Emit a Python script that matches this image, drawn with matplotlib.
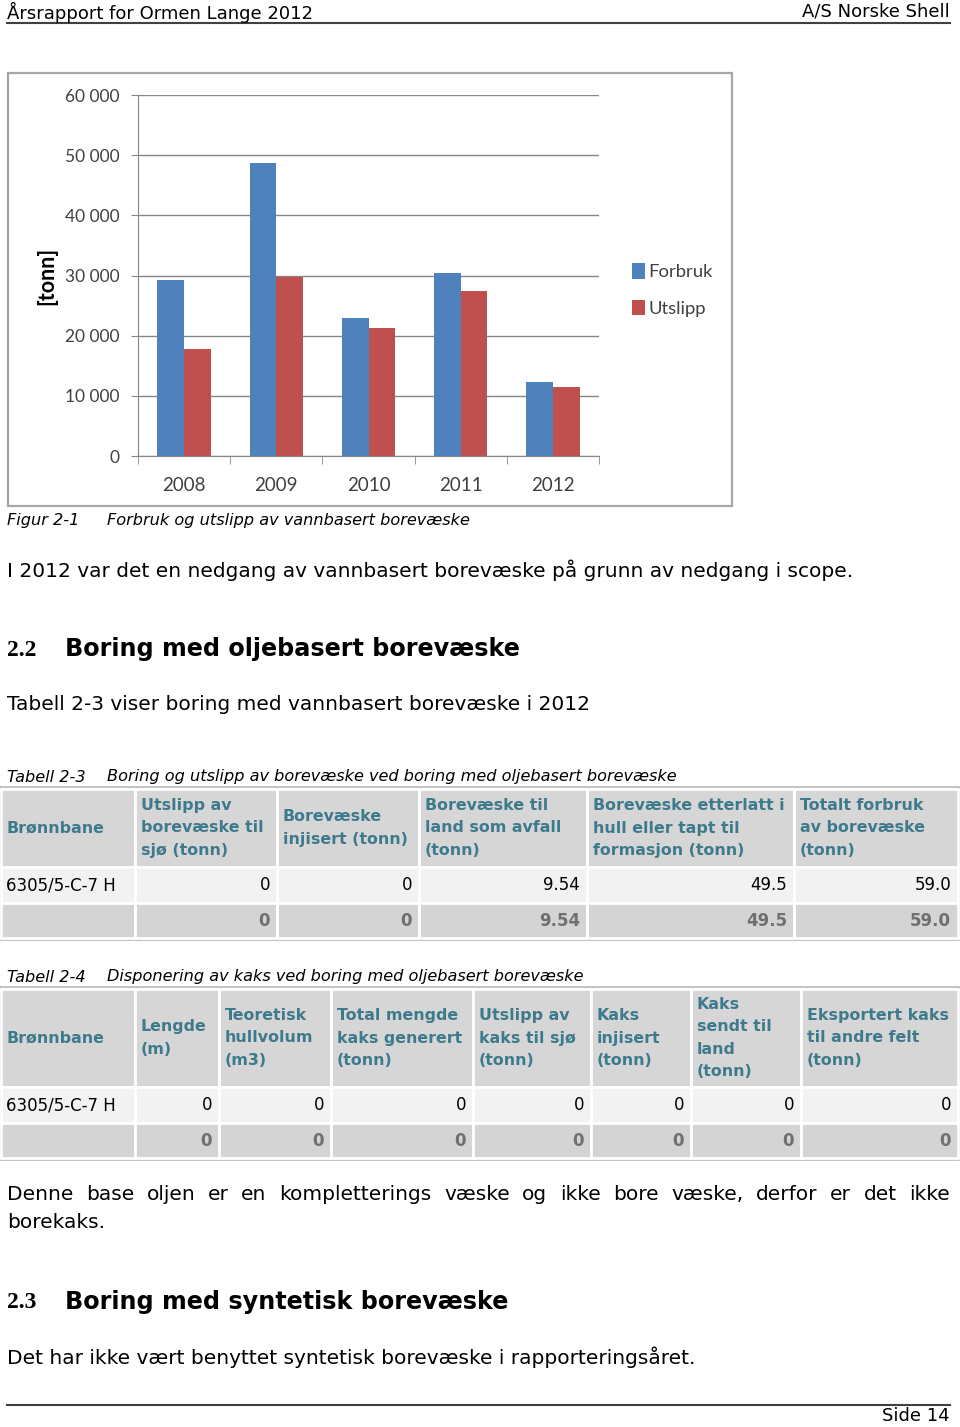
import matplotlib
matplotlib.use("Agg")
import matplotlib.pyplot as plt
from matplotlib.patches import Rectangle
import numpy as np

# chart data
years = ["2008", "2009", "2010", "2011", "2012"]
forbruk = [29250, 48750, 23000, 30350, 12250]
utslipp = [17850, 29750, 21250, 27500, 11450]

# table 2-3
t23_header = ["Brønnbane", "Utslipp av\nborevæske til\nsjø (tonn)", "Borevæske\ninjisert (tonn)",
              "Borevæske til\nland som avfall\n(tonn)", "Borevæske etterlatt i\nhull eller tapt til\nformasjon (tonn)",
              "Totalt forbruk\nav borevæske\n(tonn)"]
t23_row = ["6305/5-C-7 H", "0", "0", "9.54", "49.5", "59.0"]
t23_sum = ["", "0", "0", "9.54", "49.5", "59.0"]

# table 2-4
t24_header = ["Brønnbane", "Lengde\n(m)", "Teoretisk\nhullvolum\n(m3)", "Total mengde\nkaks generert\n(tonn)",
              "Utslipp av\nkaks til sjø\n(tonn)", "Kaks\ninjisert\n(tonn)", "Kaks\nsendt til\nland\n(tonn)",
              "Eksportert kaks\ntil andre felt\n(tonn)"]
t24_row = ["6305/5-C-7 H", "0", "0", "0", "0", "0", "0", "0"]
t24_sum = ["", "0", "0", "0", "0", "0", "0", "0"]

BLUE = "#4F81BD"
RED = "#C0504D"
TEAL = "#3d7a8c"
W, H = 960, 1427
BODY = 14.5

fig = plt.figure(figsize=(9.6, 14.27), dpi=100)
page = fig.add_axes([0, 0, 1, 1])
page.set_xlim(0, W)
page.set_ylim(H, 0)
page.axis("off")

# ---- header / footer
page.text(7, 12, "Årsrapport for Ormen Lange 2012", fontsize=13, va="center", ha="left")
page.text(950, 12, "A/S Norske Shell", fontsize=13, va="center", ha="right")
page.plot([7, 950], [23, 23], color="#404040", lw=1.5)
page.plot([7, 950], [1405, 1405], color="#404040", lw=1.5)
page.text(950, 1416, "Side 14", fontsize=13, va="center", ha="right")

# ---- chart frame
page.add_patch(Rectangle((8, 73), 724, 433, fill=False, ec="#a6a6a6", lw=1.6))

ax = fig.add_axes([138 / W, 1 - 456 / H, (599 - 138) / W, (456 - 95) / H])
x = np.arange(len(years))
bw = 0.29
ax.bar(x - bw / 2, forbruk, bw, color=BLUE, label="Forbruk", zorder=3)
ax.bar(x + bw / 2, utslipp, bw, color=RED, label="Utslipp", zorder=3)
ax.set_xlim(-0.5, len(years) - 0.5)
ax.set_ylim(0, 60000)
ax.set_yticks(np.arange(0, 60001, 10000))
ax.set_yticklabels([f"{v:,}".replace(",", " ") for v in range(0, 60001, 10000)],
                   fontsize=12.5, family="Lato", color="#404040")
ax.set_xticks(x)
ax.set_xticklabels(years, fontsize=13.5, family="Lato", color="#404040")
ax.tick_params(axis="x", length=0, pad=15)
ax.tick_params(axis="y", length=5, color="#868686", pad=8)
ax.set_xticks(np.arange(-0.5, len(years), 1), minor=True)
ax.tick_params(axis="x", which="minor", length=6, color="#868686")
ax.grid(axis="y", color="#868686", lw=1, zorder=0)
for s in ["top", "right"]:
    ax.spines[s].set_visible(False)
ax.spines["left"].set_color("#868686")
ax.spines["bottom"].set_color("#868686")
ax.set_ylabel("[tonn]", fontsize=15.5, fontweight="bold", family="Lato", labelpad=6)
ax.legend(loc="center left", bbox_to_anchor=(1.035, 0.46), frameon=False,
          prop={"family": "Lato", "size": 13.3}, handlelength=0.7, handleheight=0.9,
          handletextpad=0.2, labelspacing=1.05, labelcolor="#404040")

# ---- text blocks
def caption(y, label, text):
    page.text(7, y, label, fontsize=11.6, style="italic", va="center")
    page.text(107, y, text, fontsize=11.6, style="italic", va="center")

caption(521, "Figur 2-1", "Forbruk og utslipp av vannbasert borevæske")
page.text(7, 570, "I 2012 var det en nedgang av vannbasert borevæske på grunn av nedgang i scope.",
          fontsize=BODY, va="center")
page.text(7, 650, "2.2", fontsize=17, family="Liberation Serif", fontweight="bold", va="center")
page.text(65, 649, "Boring med oljebasert borevæske", fontsize=17.2, fontweight="bold", va="center")
page.text(7, 704, "Tabell 2-3 viser boring med vannbasert borevæske i 2012", fontsize=BODY, va="center")
caption(777, "Tabell 2-3", "Boring og utslipp av borevæske ved boring med oljebasert borevæske")
caption(977, "Tabell 2-4", "Disponering av kaks ved boring med oljebasert borevæske")


def draw_table(top, edges, heights, header, row, total):
    bottom = top + sum(heights)
    page.add_patch(Rectangle((edges[0] - 1, top - 2), edges[-1] - edges[0] + 2, bottom - top + 4,
                             fc="white", ec="#b8b8b8", lw=1.2))
    rows = [(header, "#d6d6d6"), (row, "#f2f2f2"), (total, "#d4d4d4")]
    y = top
    for r, ((cells, bg), h) in enumerate(zip(rows, heights)):
        for c, txt in enumerate(cells):
            x0, x1 = edges[c], edges[c + 1]
            page.add_patch(Rectangle((x0, y), x1 - x0, h, fc=bg, ec="white", lw=2))
            cy = y + h / 2
            if r == 0:
                page.text(x0 + 6, cy, txt, fontsize=11.4, fontweight="bold", color=TEAL,
                          va="center", ha="left", linespacing=1.62)
            elif c == 0:
                page.text(x0 + 5, cy, txt, fontsize=12, va="center", ha="left")
            elif r == 1:
                page.text(x1 - 7, cy, txt, fontsize=12, va="center", ha="right")
            else:
                page.text(x1 - 7, cy, txt, fontsize=12, fontweight="bold", color="#707070",
                          va="center", ha="right")
        y += h


draw_table(789, [1, 135, 277, 419, 587, 794, 958], [78, 36, 35], t23_header, t23_row, t23_sum)
draw_table(989, [1, 135, 219, 331, 473, 591, 691, 801, 958], [98, 36, 35], t24_header, t24_row, t24_sum)

# justified paragraph line
words = "Denne base oljen er en kompletterings væske og ikke bore væske, derfor er det ikke".split()
renderer = fig.canvas.get_renderer()
texts = [page.text(0, 1195, w, fontsize=BODY, va="center") for w in words]
widths = [t.get_window_extent(renderer).width for t in texts]
gap = (950 - 7 - sum(widths)) / (len(words) - 1)
xpos = 7
for t, w in zip(texts, widths):
    t.set_x(xpos)
    xpos += w + gap
page.text(7, 1223, "borekaks.", fontsize=BODY, va="center")

page.text(7, 1303, "2.3", fontsize=17, family="Liberation Serif", fontweight="bold", va="center")
page.text(65, 1302, "Boring med syntetisk borevæske", fontsize=17.2, fontweight="bold", va="center")
page.text(7, 1357, "Det har ikke vært benyttet syntetisk borevæske i rapporteringsåret.",
          fontsize=BODY, va="center")

fig.savefig("out.png", dpi=100)
